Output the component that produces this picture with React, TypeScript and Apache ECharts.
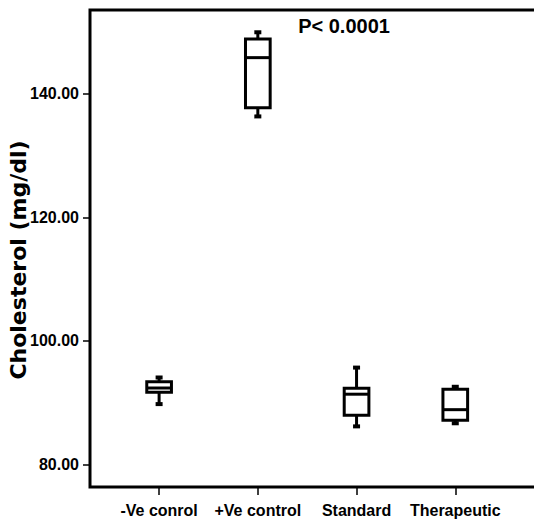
import React, { useEffect, useRef } from "react";
import * as echarts from "echarts";

const categories = ["-Ve conrol", "+Ve control", "Standard", "Therapeutic"];
const minVals = [89.8, 136.3, 86.2, 86.7];
const q1Vals = [91.7, 137.7, 88.0, 87.2];
const medVals = [92.4, 145.8, 91.4, 88.9];
const q3Vals = [93.4, 148.8, 92.35, 92.2];
const maxVals = [94.1, 149.9, 95.7, 92.6];
const yTicks = [80, 100, 120, 140];
const xTicks = [0, 1, 2, 3];
const yTitle = "Cholesterol (mg/dl)";
const pText = "P< 0.0001";

const FONT = '"Liberation Sans", Arial, sans-serif';

export default function App() {
  const ref = useRef<HTMLDivElement>(null);
  useEffect(() => {
    if (!ref.current) return;
    const chart = echarts.init(ref.current, null, { renderer: "svg" });
    const data = categories.map((_, i) => [i, minVals[i], q1Vals[i], medVals[i], q3Vals[i], maxVals[i]]);
    chart.setOption({
      animation: false,
      backgroundColor: "#fff",
      grid: {
        left: 90,
        top: 10,
        width: 464,
        height: 477,
        outerBoundsMode: "none",
        containLabel: false,
        show: true,
        borderColor: "#000",
        borderWidth: 3,
        backgroundColor: "transparent",
      },
      xAxis: {
        type: "value",
        min: -0.7,
        max: 4.0,
        splitLine: { show: false },
        axisLine: { show: false, onZero: false },
        axisTick: {
          show: true,
          customValues: xTicks,
          length: 8,
          lineStyle: { color: "#000", width: 1.5 },
        },
        axisLabel: {
          customValues: xTicks,
          formatter: (v: number) => categories[Math.round(v)] ?? "",
          color: "#000",
          fontFamily: FONT,
          fontWeight: "bold",
          fontSize: 16,
          margin: 15,
        },
      },
      yAxis: {
        type: "value",
        min: 76.4,
        max: 153.5,
        splitLine: { show: false },
        axisLine: { show: false, onZero: false },
        axisTick: {
          show: true,
          customValues: yTicks,
          length: 7,
          lineStyle: { color: "#000", width: 1.5 },
        },
        axisLabel: {
          customValues: yTicks,
          formatter: (v: number) => v.toFixed(2),
          color: "#000",
          fontFamily: FONT,
          fontWeight: "bold",
          fontSize: 16,
          margin: 11,
        },
      },
      graphic: [
        {
          type: "text",
          x: 344,
          y: 26,
          style: {
            text: pText,
            textAlign: "center",
            textVerticalAlign: "middle",
            font: `bold 20px ${FONT}`,
            fill: "#000",
          },
        },
        {
          type: "text",
          x: 18,
          y: 260,
          rotation: Math.PI / 2,
          style: {
            text: yTitle,
            textAlign: "center",
            textVerticalAlign: "middle",
            font: 'bold 22px "DejaVu Sans", sans-serif',
            fill: "#000",
          },
        },
      ],
      series: [
        {
          type: "custom",
          data,
          encode: { x: 0, y: [1, 2, 3, 4, 5] },
          renderItem: (params: any, api: any) => {
            const x = api.value(0);
            const pMin = api.coord([x, api.value(1)]);
            const pQ1 = api.coord([x, api.value(2)]);
            const pMed = api.coord([x, api.value(3)]);
            const pQ3 = api.coord([x, api.value(4)]);
            const pMax = api.coord([x, api.value(5)]);
            const cx = pMed[0];
            const hw = api.size([0.25, 0])[0] / 2;
            const stroke = { stroke: "#000", lineWidth: 3, fill: "none" };
            return {
              type: "group",
              children: [
                { type: "line", shape: { x1: cx, y1: pQ3[1], x2: cx, y2: pMax[1] }, style: stroke },
                { type: "line", shape: { x1: cx, y1: pQ1[1], x2: cx, y2: pMin[1] }, style: stroke },
                { type: "rect", shape: { x: cx - 3.5, y: pMax[1] - 2, width: 7, height: 4 }, style: { fill: "#000" } },
                { type: "rect", shape: { x: cx - 3.5, y: pMin[1] - 2, width: 7, height: 4 }, style: { fill: "#000" } },
                {
                  type: "rect",
                  shape: { x: cx - hw, y: pQ3[1], width: hw * 2, height: pQ1[1] - pQ3[1] },
                  style: { fill: "#fff", stroke: "#000", lineWidth: 3 },
                },
                { type: "line", shape: { x1: cx - hw, y1: pMed[1], x2: cx + hw, y2: pMed[1] }, style: stroke },
              ],
            };
          },
        },
      ],
    });
    return () => chart.dispose();
  }, []);
  return <div ref={ref} style={{ position: "fixed", left: 0, top: 0, width: 534, height: 527 }} />;
}
